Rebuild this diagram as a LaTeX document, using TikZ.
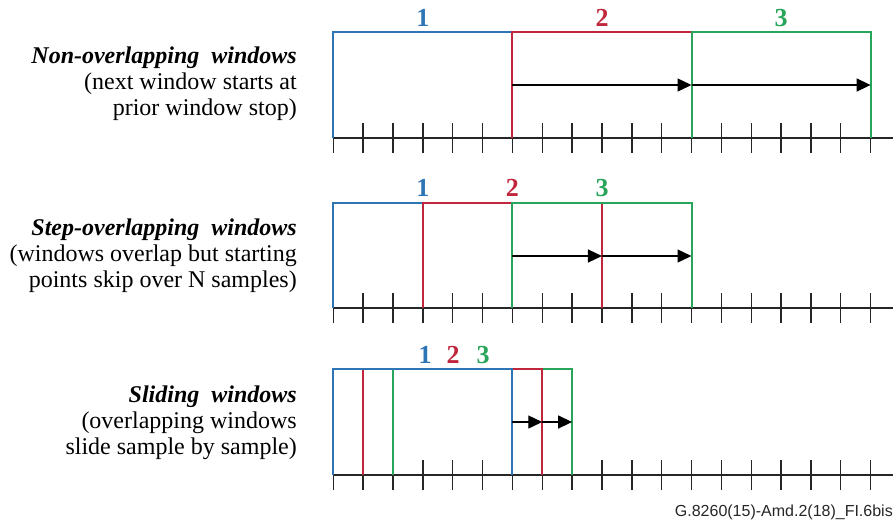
\documentclass[tikz,border=0pt]{standalone}
\usepackage{fontspec}
\setmainfont{Liberation Serif}
\newfontfamily\capfont{Liberation Sans}
\usetikzlibrary{arrows.meta}
\definecolor{wblue}{RGB}{46,117,182}
\definecolor{wred}{RGB}{192,39,60}
\definecolor{wgreen}{RGB}{40,165,90}
\begin{document}
\begin{tikzpicture}[x=1pt,y=-1pt,
  win/.style={line width=2pt, line join=miter},
  axisline/.style={line width=1.4pt, black!85},
  tickmark/.style={line width=1.4pt, black!85},
  flow/.style={line width=1.4pt, black, -{Triangle[length=14pt,width=13pt]}},
  num/.style={font=\fontsize{26}{28}\selectfont\bfseries, anchor=base, inner sep=0pt},
  lab/.style={font=\fontsize{24}{26}\selectfont, anchor=base east, inner sep=0pt},
  captext/.style={font=\capfont\fontsize{16}{18}\selectfont, anchor=base east, inner sep=0pt, text=black!85}
]
\useasboundingbox (0,0) rectangle (896,520);
% coordinates: axis points, tick ends, window tops, arrow levels
\foreach \r/\ay/\ty/\my in {a/138/32/85, b/308/203/256, c/475/369/422} {
  \coordinate (\r e) at (893,\ay);
  \foreach \i in {0,...,18} {
    \pgfmathsetmacro\xx{333.3+29.85*\i}
    \coordinate (\r\i) at (\xx,\ay);
    \coordinate (\r u\i) at (\xx,\ay-15);
    \coordinate (\r d\i) at (\xx,\ay+15);
    \coordinate (\r t\i) at (\xx,\ty);
    \coordinate (\r m\i) at (\xx,\my);
  }
}
% axes and ticks
\foreach \r in {a,b,c} {
  \draw[axisline] (\r0) -- (\r e);
  \foreach \i in {0,...,18} {
    \draw[tickmark] (\r u\i) -- (\r d\i);
  }
}
% panel 1: non-overlapping
\draw[win,wblue]  (a0)  -- (at0)  -- (at6)  -- (a6);
\draw[win,wred]   (a6)  -- (at6)  -- (at12) -- (a12);
\draw[win,wgreen] (a12) -- (at12) -- (at18) -- (a18);
\draw[flow] (am6) -- (am12);
\draw[flow] (am12) -- (am18);
\node[num,text=wblue]  (n1a) at (422.9,26) {1};
\node[num,text=wred]   (n2a) at (602,26) {2};
\node[num,text=wgreen] (n3a) at (781,26) {3};
% panel 2: step-overlapping
\draw[win,wblue]  (b0) -- (bt0) -- (bt6)  -- (b6);
\draw[win,wred]   (b3) -- (bt3) -- (bt9)  -- (b9);
\draw[win,wgreen] (b6) -- (bt6) -- (bt12) -- (b12);
\draw[flow] (bm6) -- (bm9);
\draw[flow] (bm9) -- (bm12);
\node[num,text=wblue]  (n1b) at (422.9,196) {1};
\node[num,text=wred]   (n2b) at (512.4,196) {2};
\node[num,text=wgreen] (n3b) at (602,196) {3};
% panel 3: sliding
\draw[win,wgreen] (c2) -- (ct2) -- (ct8) -- (c8);
\draw[win,wred]   (c1) -- (ct1) -- (ct7) -- (c7);
\draw[win,wblue]  (c0) -- (ct0) -- (ct6) -- (c6);
\draw[flow] (cm6) -- (cm7);
\draw[flow] (cm7) -- (cm8);
\node[num,text=wblue]  (n1c) at (425,363) {1};
\node[num,text=wred]   (n2c) at (453,363) {2};
\node[num,text=wgreen] (n3c) at (483,363) {3};
% left labels
\node[lab] (t1a) at (297,63)  {\textbf{\textit{Non-overlapping\ \ windows}}};
\node[lab] (t1b) at (297,89)  {(next window starts at};
\node[lab] (t1c) at (297,115) {prior window stop)};
\node[lab] (t2a) at (297,235) {\textbf{\textit{Step-overlapping\ \ windows}}};
\node[lab] (t2b) at (297,261) {(windows overlap but starting};
\node[lab] (t2c) at (297,287) {points skip over N samples)};
\node[lab] (t3a) at (297,402) {\textbf{\textit{Sliding\ \ windows}}};
\node[lab] (t3b) at (297,428) {(overlapping windows};
\node[lab] (t3c) at (297,454) {slide sample by sample)};
% caption
\node[captext] (capt) at (893,516) {G.8260(15)-Amd.2(18)\_FI.6bis};
\end{tikzpicture}
\end{document}
